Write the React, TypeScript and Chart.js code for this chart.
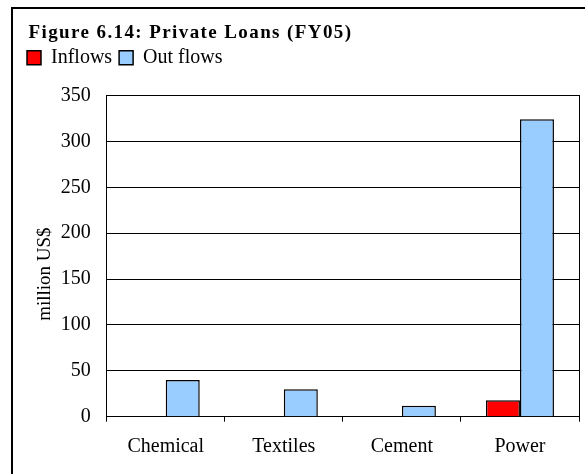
import React, { useEffect, useRef } from "react";
import { Chart, registerables } from "chart.js";

Chart.register(...registerables);

const categories = ["Chemical", "Textiles", "Cement", "Power"];
const inflows = [0, 0, 0, 18];
const outflows = [40, 30, 12, 324];
const yTicks = [0, 50, 100, 150, 200, 250, 300, 350];
const titleText = "Figure 6.14: Private Loans (FY05)";
const yTitle = "million US$";
const seriesNames = ["Inflows", "Out flows"];

const FONT = "'Liberation Serif'";
Chart.defaults.font.family = FONT;
Chart.defaults.color = "#000";

const tweakPlugin = {
  id: "tweak",
  beforeDraw(chart: any) {
    const t = chart.titleBlock;
    if (t && !t.__w) {
      const orig = t.draw.bind(t);
      t.draw = function (...args: any[]) {
        const ctx = chart.ctx;
        ctx.save();
        ctx.letterSpacing = "1.4px";
        ctx.translate(8.5, 0);
        orig(...args);
        ctx.restore();
      };
      t.__w = true;
    }
    const y = chart.scales.y;
    if (y && !y.__w) {
      const o = y.drawTitle.bind(y);
      y.drawTitle = function () {
        const ctx = chart.ctx;
        ctx.save();
        ctx.translate(0, 18);
        o();
        ctx.restore();
      };
      y.__w = true;
    }
  },
};

export default function App() {
  const ref = useRef<HTMLCanvasElement>(null);
  useEffect(() => {
    if (!ref.current) return;
    const chart = new Chart(ref.current, {
      type: "bar",
      data: {
        labels: categories,
        datasets: [
          {
            label: seriesNames[0],
            data: inflows,
            backgroundColor: "#FF0000",
            borderColor: "#000000",
            borderWidth: 1.5,
            categoryPercentage: 0.576,
            barPercentage: 1,
          },
          {
            label: seriesNames[1],
            data: outflows,
            backgroundColor: "#99CCFF",
            borderColor: "#000000",
            borderWidth: 1.5,
            categoryPercentage: 0.576,
            barPercentage: 1,
          },
        ],
      },
      options: {
        responsive: false,
        animation: false,
        devicePixelRatio: 1,
        layout: { padding: { left: 20, top: 0, right: 0, bottom: 0 } },
        plugins: {
          tooltip: { enabled: false },
          title: {
            display: true,
            text: titleText,
            align: "start",
            color: "#000",
            font: { family: FONT, size: 19, weight: "bold", lineHeight: 1 },
            padding: { top: 23.2, bottom: -1.5 },
          },
          legend: {
            display: true,
            position: "top",
            align: "start",
            labels: {
              boxWidth: 14,
              boxHeight: 14,
              padding: 7,
              color: "#000",
              font: { family: FONT, size: 20 },
            },
          },
        },
        scales: {
          x: {
            type: "category",
            position: "bottom",
            grid: {
              display: true,
              drawOnChartArea: false,
              drawTicks: true,
              tickLength: 5,
              color: "#000",
              offset: true,
            },
            border: { display: true, color: "#000", width: 1 },
            ticks: {
              padding: 13,
              color: "#000",
              font: { family: FONT, size: 20 },
              maxRotation: 0,
            },
            afterFit: (s: any) => {
              s.height = 57.3;
            },
          },
          x2: {
            type: "category",
            position: "top",
            display: true,
            grid: { display: false },
            border: { display: false },
            ticks: { display: false },
            afterFit: (s: any) => {
              s.height = 17.8;
            },
          },
          y: {
            type: "linear",
            position: "left",
            min: 0,
            max: 350,
            afterBuildTicks: (s: any) => {
              s.ticks = yTicks.map((v) => ({ value: v }));
            },
            grid: { color: "#000", lineWidth: 1, drawTicks: false },
            border: { display: true, color: "#000", width: 1 },
            ticks: {
              padding: 16,
              color: "#000",
              font: { family: FONT, size: 20 },
            },
            title: {
              display: true,
              text: yTitle,
              color: "#000",
              font: { family: FONT, size: 19, lineHeight: 1.2 },
              padding: { top: 13.8, bottom: 0 },
            },
            afterFit: (s: any) => {
              s.width = 86.7;
            },
          },
          y2: {
            type: "linear",
            position: "right",
            min: 0,
            max: 350,
            grid: { display: false },
            border: { display: true, color: "#000", width: 1 },
            ticks: { display: false },
            afterFit: (s: any) => {
              s.width = 6;
            },
          },
        },
      },
      plugins: [tweakPlugin],
    } as any);
    return () => chart.destroy();
  }, []);

  return (
    <div
      style={{
        position: "fixed",
        left: 0,
        top: 0,
        width: 585,
        height: 474,
        overflow: "hidden",
        background: "#fff",
      }}
    >
      <div
        style={{
          position: "absolute",
          left: 11,
          top: 7,
          width: 640,
          height: 540,
          border: "2px solid #000",
          boxSizing: "border-box",
        }}
      />
      <canvas
        ref={ref}
        width={585}
        height={474}
        style={{ position: "absolute", left: 0, top: 0, width: 585, height: 474 }}
      />
    </div>
  );
}
